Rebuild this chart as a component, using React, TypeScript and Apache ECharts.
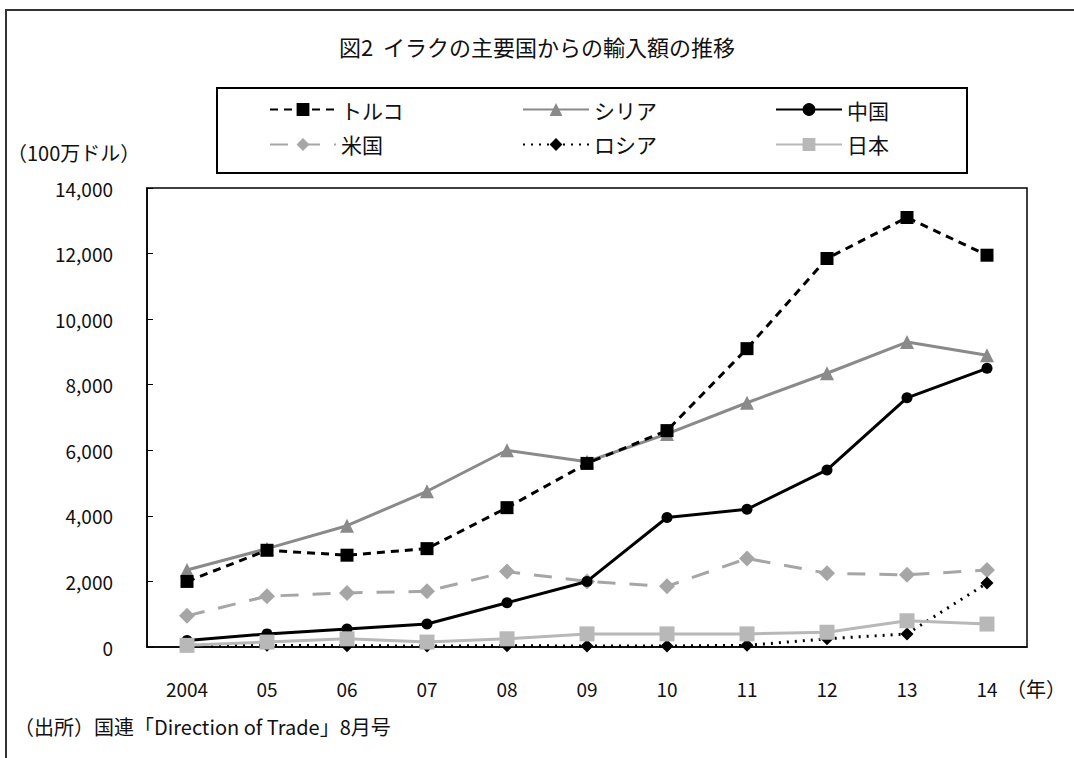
import React, { useEffect, useRef } from "react";
import * as echarts from "echarts";

const years = ["2004", "05", "06", "07", "08", "09", "10", "11", "12", "13", "14"];
const turkey = [2000, 2950, 2800, 3000, 4250, 5600, 6600, 9100, 11850, 13100, 11950];
const syria = [2350, 3000, 3700, 4750, 6000, 5650, 6500, 7450, 8350, 9300, 8900];
const china = [200, 400, 550, 700, 1350, 2000, 3950, 4200, 5400, 7600, 8500];
const usa = [950, 1550, 1650, 1700, 2300, 2000, 1850, 2700, 2250, 2200, 2350];
const russia = [50, 50, 40, 30, 40, 30, 30, 50, 250, 400, 1950];
const japan = [50, 150, 250, 150, 250, 400, 400, 400, 450, 800, 700];
const yTicks = { min: 0, max: 14000, interval: 2000 };

const FONT = "'Noto Sans CJK JP', sans-serif";

export default function App() {
  const ref = useRef<HTMLDivElement>(null);
  useEffect(() => {
    if (!ref.current) return;
    const chart = echarts.init(ref.current, null, { renderer: "svg" });
    const mk = (name: string, data: number[], color: string, type: any, symbol: string, size: number, z: number) => ({
      name,
      type: "line",
      data,
      symbol,
      symbolSize: size,
      z,
      lineStyle: { color, width: 3, type },
      itemStyle: { color },
    });
    const legendCols = [
      { data: ["トルコ", "米国"], left: 264 },
      { data: ["シリア", "ロシア"], left: 517 },
      { data: ["中国", "日本"], left: 770 },
    ];
    chart.setOption({
      animation: false,
      backgroundColor: "#fff",
      textStyle: { fontFamily: FONT },
      title: {
        text: "図2  イラクの主要国からの輸入額の推移",
        left: "center",
        top: 30,
        textStyle: { fontFamily: FONT, fontSize: 22, fontWeight: "normal", color: "#111" },
      },
      legend: legendCols.map((l) => ({
        data: l.data,
        left: l.left,
        top: 94,
        orient: "vertical",
        itemGap: 14,
        itemWidth: 66,
        itemHeight: 16,
        textStyle: { fontFamily: FONT, fontSize: 21, color: "#111" },
      })),
      grid: {
        left: 147,
        right: 47,
        top: 188,
        bottom: 111,
        show: true,
        borderColor: "#000",
        borderWidth: 1.5,
      },
      xAxis: {
        type: "category",
        data: years,
        boundaryGap: true,
        axisLine: { lineStyle: { color: "#000", width: 1.5 } },
        axisTick: { inside: true, length: 6, lineStyle: { color: "#000" } },
        axisLabel: { margin: 32, fontFamily: FONT, fontSize: 19, color: "#111" },
      },
      yAxis: {
        type: "value",
        min: yTicks.min,
        max: yTicks.max,
        interval: yTicks.interval,
        name: "（100万ドル）",
        nameLocation: "end",
        nameGap: 22,
        nameTextStyle: { fontFamily: FONT, fontSize: 20, color: "#111", align: "left", padding: [0, 0, 4, -140] },
        axisLine: { show: true, lineStyle: { color: "#000", width: 1.5 } },
        axisTick: { show: true, inside: true, length: 6, lineStyle: { color: "#000" } },
        splitLine: { show: false },
        axisLabel: {
          margin: 34,
          fontFamily: FONT,
          fontSize: 19,
          color: "#111",
          formatter: (v: number) => v.toLocaleString("en-US"),
        },
      },
      graphic: [
        {
          type: "rect",
          shape: { x: 6, y: 10, width: 1100, height: 800 },
          style: { fill: "none", stroke: "#333", lineWidth: 2 },
          silent: true,
          z: -10,
        },
        {
          type: "rect",
          shape: { x: 217, y: 88, width: 750, height: 85 },
          style: { fill: "none", stroke: "#000", lineWidth: 2 },
          silent: true,
        },
        {
          type: "text",
          left: 1006,
          top: 678,
          style: { text: "（年）", font: `20px ${FONT}`, fill: "#111" },
        },
        {
          type: "text",
          left: 14,
          top: 716,
          style: {
            text: "（出所）国連「Direction of Trade」8月号",
            font: `20px ${FONT}`,
            fill: "#111",
          },
        },
      ],
      series: [
        mk("トルコ", turkey, "#000", [8, 6], "rect", 13, 3),
        mk("シリア", syria, "#8a8a8a", "solid", "triangle", 14, 2),
        mk("中国", china, "#000", "solid", "circle", 11, 4),
        mk("米国", usa, "#a6a6a6", [18, 14], "diamond", 16, 2),
        mk("ロシア", russia, "#000", [2, 6], "diamond", 13, 3),
        mk("日本", japan, "#b8b8b8", "solid", "rect", 15, 5),
      ],
    });
    return () => chart.dispose();
  }, []);
  return <div ref={ref} style={{ position: "absolute", left: 0, top: 0, width: 1074, height: 758 }} />;
}
